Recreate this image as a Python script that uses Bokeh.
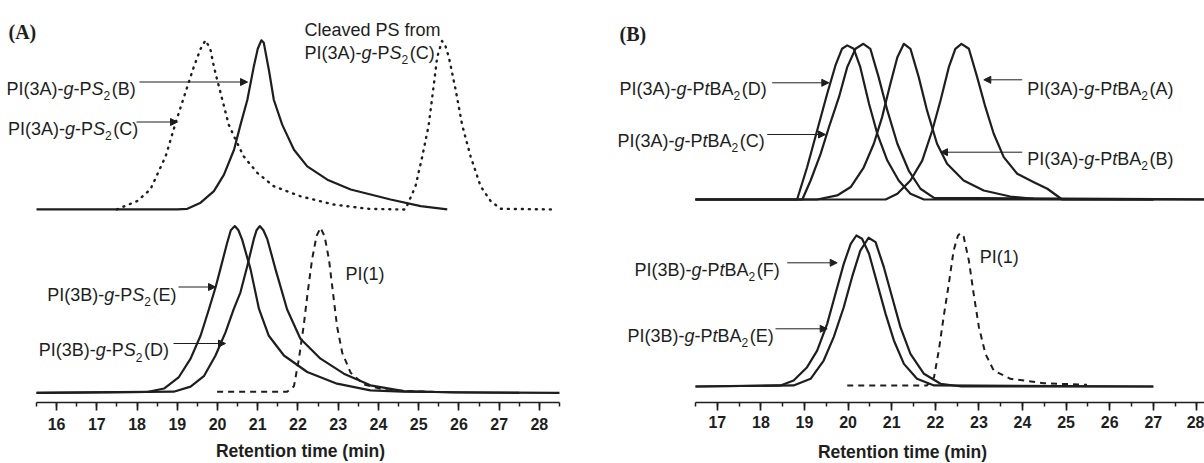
from bokeh.plotting import figure
from bokeh.layouts import row
from bokeh.models import Range1d, Label, Arrow, NormalHead, SingleIntervalTicker, Title
from bokeh.embed import file_html
from bokeh.resources import INLINE

# ---------------- data (retention time in min, normalised detector signal) ----------------
# Panel (A), upper traces
a_ps2b_t = [15.5, 18.5, 19.0, 19.25, 19.58, 19.91, 20.16, 20.41, 20.57, 20.74, 20.90, 21.0, 21.09,
            21.15, 21.28, 21.40, 21.61, 21.90, 22.23, 22.73, 23.31, 24.30, 25.05, 25.71]
a_ps2b_s = [0, 0, 0.001, 0.004, 0.04, 0.108, 0.206, 0.353, 0.5, 0.647, 0.843, 0.95, 1.0,
            0.985, 0.82, 0.647, 0.5, 0.353, 0.255, 0.176, 0.118, 0.059, 0.02, 0.0]
a_ps2c_t = [17.5, 17.59, 18.0, 18.33, 18.71, 18.98, 19.2, 19.41, 19.58, 19.70, 19.82, 19.91, 20.12,
            20.28, 20.45, 20.65, 20.99, 21.40, 22.06, 22.89, 23.72, 24.55, 24.67, 24.92, 25.09,
            25.25, 25.38, 25.46, 25.58, 25.66, 25.75, 25.92, 26.08, 26.29, 26.54, 26.79, 27.04, 28.36]
a_ps2c_s = [0, 0.01, 0.049, 0.118, 0.314, 0.529, 0.69, 0.843, 0.95, 1.0, 0.95, 0.843, 0.647,
            0.5, 0.412, 0.314, 0.216, 0.137, 0.078, 0.029, 0.004, 0, 0.0, 0.137, 0.314,
            0.5, 0.745, 0.9, 0.996, 0.97, 0.9, 0.706, 0.5, 0.314, 0.137, 0.049, 0.004, 0]
# Panel (A), lower traces
a_ps2e_t = [15.5, 18.25, 18.67, 19.04, 19.33, 19.58, 19.78, 19.95, 20.07, 20.24, 20.33, 20.43, 20.52,
            20.61, 20.82, 21.03, 21.27, 21.65, 22.23, 22.97, 23.80, 24.6, 25.46, 27.5]
a_ps2e_s = [0, 0.005, 0.026, 0.095, 0.205, 0.344, 0.497, 0.632, 0.742, 0.90, 0.975, 1.0, 0.975,
            0.92, 0.742, 0.503, 0.344, 0.224, 0.125, 0.055, 0.015, 0.007, 0.005, 0]
a_ps2d_t = [15.5, 18.91, 19.33, 19.66, 19.95, 20.20, 20.40, 20.57, 20.74, 20.90, 20.97, 21.05, 21.14,
            21.24, 21.44, 21.73, 22.06, 22.56, 23.14, 23.80, 24.63, 25.87, 28.5]
a_ps2d_s = [0, 0.007, 0.037, 0.1, 0.224, 0.364, 0.5, 0.603, 0.761, 0.92, 0.975, 1.0, 0.975,
            0.92, 0.742, 0.5, 0.324, 0.205, 0.115, 0.045, 0.01, 0.002, 0]
a_pi1_t = [19.99, 21.73, 21.90, 22.02, 22.14, 22.24, 22.35, 22.46, 22.56, 22.66, 22.77, 22.87,
           22.97, 23.10, 23.31, 23.64, 24.22, 25.46]
a_pi1_s = [0.006, 0.006, 0.04, 0.2, 0.4, 0.6, 0.8, 0.94, 0.99, 0.94, 0.8, 0.6,
           0.4, 0.24, 0.12, 0.05, 0.015, 0.005]

# Panel (B), upper traces
b_d_t = [16.5, 18.83, 19.06, 19.29, 19.52, 19.71, 19.86, 19.98, 20.13, 20.28, 20.48, 20.67, 20.90,
         21.16, 21.43, 21.74, 28.5]
b_d_s = [0, 0, 0.207, 0.443, 0.679, 0.861, 0.968, 0.99, 0.968, 0.85, 0.615, 0.422, 0.25,
         0.122, 0.037, 0, 0]
b_c_t = [16.5, 18.95, 19.14, 19.37, 19.56, 19.79, 19.98, 20.17, 20.35, 20.51, 20.70, 20.90, 21.13,
         21.39, 21.66, 21.97, 28.5]
b_c_s = [0, 0, 0.122, 0.293, 0.464, 0.657, 0.85, 0.968, 1.0, 0.968, 0.786, 0.572, 0.358,
         0.186, 0.069, 0.01, 0]
b_b_t = [16.5, 19.29, 19.75, 20.06, 20.36, 20.59, 20.78, 20.97, 21.13, 21.28, 21.43, 21.62, 21.81,
         22.04, 22.27, 22.65, 23.11, 23.72, 24.26, 27.0]
b_b_s = [0, 0.0, 0.026, 0.08, 0.207, 0.358, 0.529, 0.743, 0.914, 1.0, 0.968, 0.786, 0.572,
         0.358, 0.229, 0.122, 0.058, 0.019, 0.004, 0]
b_a_t = [16.5, 20.86, 21.13, 21.43, 21.70, 21.93, 22.12, 22.31, 22.46, 22.60, 22.77, 22.96, 23.15,
         23.34, 23.57, 23.88, 24.26, 24.57, 24.91, 27.0]
b_a_s = [0, 0, 0.037, 0.122, 0.25, 0.443, 0.636, 0.85, 0.968, 1.0, 0.968, 0.786, 0.593,
         0.422, 0.272, 0.165, 0.111, 0.069, 0, 0]
# Panel (B), lower traces
b_f_t = [16.5, 18.45, 18.75, 19.06, 19.29, 19.52, 19.71, 19.90, 20.06, 20.19, 20.32, 20.48, 20.67,
         20.86, 21.05, 21.28, 21.58, 21.97, 27.0]
b_f_s = [0, 0.007, 0.04, 0.128, 0.238, 0.415, 0.614, 0.812, 0.945, 1.0, 0.978, 0.879, 0.68,
         0.481, 0.305, 0.15, 0.051, 0.007, 0]
b_e_t = [16.5, 18.75, 19.14, 19.44, 19.67, 19.90, 20.09, 20.28, 20.47, 20.63, 20.82, 21.01, 21.20,
         21.43, 21.74, 22.12, 22.6, 27.0]
b_e_s = [0, 0.007, 0.051, 0.172, 0.327, 0.525, 0.724, 0.9, 0.985, 0.956, 0.79, 0.591, 0.393,
         0.216, 0.084, 0.018, 0, 0]
b_pi1_t = [19.98, 21.81, 21.97, 22.08, 22.19, 22.31, 22.42, 22.52, 22.58, 22.65, 22.77, 22.88,
           23.0, 23.15, 23.34, 23.72, 24.49, 25.48]
b_pi1_s = [0.007, 0.007, 0.06, 0.238, 0.459, 0.68, 0.9, 1.0, 1.015, 0.993, 0.834, 0.614,
           0.393, 0.216, 0.106, 0.051, 0.022, 0.011]

x_label = "Retention time (min)"

# ---------------- helpers ----------------
INK = "#1e1e1e"
FONT = "Liberation Sans"
ARIAL = {' ': 278, '(': 333, ')': 333, '-': 333, '1': 556, '2': 556, '3': 556, 'A': 667, 'B': 667,
         'C': 722, 'D': 722, 'E': 667, 'F': 611, 'I': 278, 'P': 667, 'S': 667, 'a': 556, 'd': 556,
         'e': 556, 'f': 278, 'g': 556, 'l': 222, 'm': 833, 'o': 556, 'r': 333, 't': 278, 'v': 500}


def tw(s, size):
    return sum(ARIAL.get(c, 556) for c in s) * size / 1000.0


def make_fig(width, xr, bounds, frame_h, bottom, std, title_offset, title_pad):
    p = figure(width=width, height=463, x_range=Range1d(*xr), y_range=Range1d(0, frame_h),
               output_backend="svg", toolbar_location=None, y_axis_location=None,
               min_border_left=0, min_border_right=0, min_border_top=0,
               min_border_bottom=bottom)
    p.xgrid.visible = False
    p.ygrid.visible = False
    p.outline_line_color = None
    p.background_fill_color = "white"
    p.border_fill_color = "white"
    ax = p.xaxis[0]
    ax.bounds = bounds
    ax.ticker = SingleIntervalTicker(interval=1, num_minor_ticks=2)
    ax.major_tick_in = 0
    ax.major_tick_out = 8
    ax.minor_tick_in = 0
    ax.minor_tick_out = 4
    ax.axis_line_width = 1.7
    ax.major_tick_line_width = 1.7
    ax.minor_tick_line_width = 1.5
    ax.axis_line_color = INK
    ax.major_tick_line_color = INK
    ax.minor_tick_line_color = INK
    ax.major_label_text_font = FONT
    ax.major_label_text_font_style = "bold"
    ax.major_label_text_font_size = "16px"
    ax.major_label_text_color = INK
    ax.major_label_standoff = std
    p.add_layout(Title(text=x_label, align="center", offset=title_offset, standoff=0,
                       padding=dict(left=0, right=0, top=title_pad, bottom=0),
                       text_font=FONT, text_font_style="bold", text_font_size="17.5px",
                       text_color=INK), "below")
    return p


def rich(p, fb, left, base, runs, size=18):
    x = left
    for text, st in runs:
        fs, dy, style = size, 0, "normal"
        if st == "i":
            style = "italic"
        if st == "sub":
            fs, dy = 12, 7
        p.add_layout(Label(x=x, y=fb - (base + dy), x_units="screen", y_units="screen",
                           text=text, text_font=FONT, text_font_size=f"{fs}px",
                           text_font_style=style, text_color=INK,
                           text_baseline="alphabetic", text_align="left"))
        x += tw(text, fs) + (1.5 if st == "sub" else 0)


def arrow(p, fb, x0, x1, y):
    p.add_layout(Arrow(end=NormalHead(size=7, fill_color=INK, line_color=INK, line_width=1),
                       x_start=x0, y_start=fb - y, x_end=x1, y_end=fb - y,
                       start_units="screen", end_units="screen",
                       line_color=INK, line_width=1))


def ps(sample, letter):
    return [(f"PI({sample})-", "n"), ("g", "i"), ("-P", "n"), ("S", "i"), ("2", "sub"), (f"({letter})", "n")]


def ptba(sample, letter):
    return [(f"PI({sample})-", "n"), ("g", "i"), ("-P", "n"), ("t", "i"), ("BA", "n"), ("2", "sub"),
            (f"({letter})", "n")]


# ---------------- panel A (frame spans the whole 600 px; axis bounded) ----------------
FBA = 404
kA = 40.23
pa = make_fig(600, (15.5 - 36 / kA, 15.5 + 564 / kA), (15.5, 28.5), FBA, 59, 7, 15, 6)
up_a, sc_a = 194, 170
lo_a, scl_a = 9.7, 167.6
pa.line(a_ps2b_t, [up_a + sc_a * v for v in a_ps2b_s], line_color=INK, line_width=2.2, line_join="round")
pa.line(a_ps2c_t, [up_a + sc_a * v for v in a_ps2c_s], line_color=INK, line_width=2.4,
        line_dash="1 6", line_cap="round", line_join="round")
pa.line(a_ps2e_t, [lo_a + scl_a * v for v in a_ps2e_s], line_color=INK, line_width=2.2, line_join="round")
pa.line(a_ps2d_t, [lo_a + scl_a * v for v in a_ps2d_s], line_color=INK, line_width=2.2, line_join="round")
pa.line(a_pi1_t, [lo_a + scl_a * v for v in a_pi1_s], line_color=INK, line_width=2.0,
        line_dash="6 5", line_join="round")

pa.add_layout(Label(x=8, y=FBA - 33, x_units="screen", y_units="screen", text="(A)",
                    text_font="Liberation Serif", text_font_style="bold", text_font_size="20px",
                    text_color=INK, text_baseline="alphabetic"))
rich(pa, FBA, 304, 31, [("Cleaved PS from", "n")])
rich(pa, FBA, 304, 54, ps("3A", "C"))
rich(pa, FBA, 6, 90, ps("3A", "B"))
arrow(pa, FBA, 139, 247, 83.5)
rich(pa, FBA, 7.6, 130, ps("3A", "C"))
arrow(pa, FBA, 136, 177, 123.5)
rich(pa, FBA, 46.7, 296, ps("3B", "E"))
arrow(pa, FBA, 178, 215, 288.5)
rich(pa, FBA, 38.3, 351.7, ps("3B", "D"))
arrow(pa, FBA, 173, 225, 345)
rich(pa, FBA, 345, 275, [("PI(1)", "n")])

# ---------------- panel B (canvas x = page x - 600) ----------------
FBB = 402
kB = 43.6
pb = make_fig(604, (16.5 - 95 / kB, 16.5 + 509 / kB), (16.5, 28.5), FBB, 61, 5, 54, 9)
up_b, sc_b = 203, 155.7
lo_b, scl_b = 16, 151
for t, s in ((b_d_t, b_d_s), (b_c_t, b_c_s), (b_b_t, b_b_s), (b_a_t, b_a_s)):
    pb.line(t, [up_b + sc_b * v for v in s], line_color=INK, line_width=2.2, line_join="round")
for t, s in ((b_f_t, b_f_s), (b_e_t, b_e_s)):
    pb.line(t, [lo_b + scl_b * v for v in s], line_color=INK, line_width=2.2, line_join="round")
pb.line(b_pi1_t, [lo_b + scl_b * v for v in b_pi1_s], line_color=INK, line_width=2.0,
        line_dash="6 5", line_join="round")

pb.add_layout(Label(x=19, y=FBB - 33, x_units="screen", y_units="screen", text="(B)",
                    text_font="Liberation Serif", text_font_style="bold", text_font_size="20px",
                    text_color=INK, text_baseline="alphabetic"))
rich(pb, FBB, 19, 88.3, ptba("3A", "D"))
arrow(pb, FBB, 171.7, 228.3, 82.3)
rich(pb, FBB, 17, 140, ptba("3A", "C"))
arrow(pb, FBB, 166.7, 225, 134)
rich(pb, FBB, 426.7, 88.3, ptba("3A", "A"))
arrow(pb, FBB, 421.7, 383.3, 79.3)
rich(pb, FBB, 426.7, 158.3, ptba("3A", "B"))
arrow(pb, FBB, 421.7, 340, 151.7)
rich(pb, FBB, 34, 269.3, ptba("3B", "F"))
arrow(pb, FBB, 186.7, 236.7, 262.3)
rich(pb, FBB, 27, 335, ptba("3B", "E"))
arrow(pb, FBB, 175, 226.7, 328.3)
rich(pb, FBB, 379.3, 256.7, [("PI(1)", "n")])

layout = row(pa, pb)
open("out.html", "w").write(file_html(layout, INLINE))
